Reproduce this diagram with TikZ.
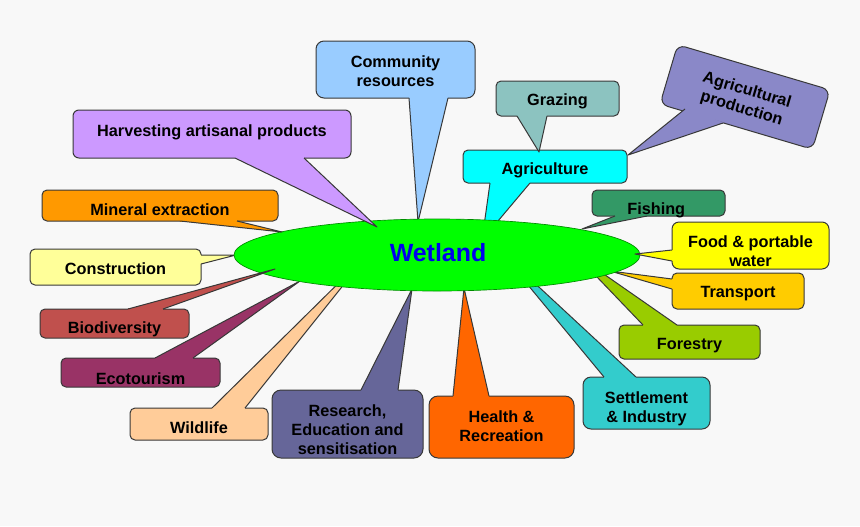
\documentclass[tikz,border=0pt]{standalone}
\usepackage{fontspec}
\setmainfont{Liberation Sans}
\usetikzlibrary{calc,backgrounds,shapes}
\definecolor{pageGrey}{rgb}{0.973,0.973,0.973}
\definecolor{edgeGrey}{rgb}{0.22,0.22,0.22}
\definecolor{wetGreen}{rgb}{0,1,0}
\definecolor{wetBlue}{rgb}{0,0,0.93}
\definecolor{communityBlue}{HTML}{99CCFF}
\definecolor{harvestLilac}{HTML}{CC99FF}
\definecolor{grazingTeal}{HTML}{8CC3C0}
\definecolor{productionBlue}{HTML}{8A88C8}
\definecolor{agriCyan}{HTML}{00FFFF}
\definecolor{fishingGreen}{HTML}{339966}
\definecolor{foodYellow}{HTML}{FFFF00}
\definecolor{transportGold}{HTML}{FFCC00}
\definecolor{forestOlive}{HTML}{99CC00}
\definecolor{settleTeal}{HTML}{33CCCC}
\definecolor{healthOrange}{HTML}{FF6600}
\definecolor{researchSlate}{HTML}{666699}
\definecolor{wildPeach}{HTML}{FFCC99}
\definecolor{ecoPlum}{HTML}{993366}
\definecolor{bioRed}{HTML}{C0504D}
\definecolor{buildCream}{HTML}{FFFF99}
\definecolor{mineralOrange}{HTML}{FF9900}
\def\px{0.75pt}
\tikzset{
  edgeline/.style={draw=edgeGrey,line width=0.75pt,line join=round},
  bubbletext/.style={font=\fontsize{12.2}{14.25}\selectfont\bfseries,align=center,inner sep=0pt,text=black}
}
% one tail: filled wedge, box border wiped under it, two outer sides
\newcommand{\drawtails}[1]{
\foreach \name/\col/\ax/\ay/\bx/\by/\target/\tx/\ty in #1
{
\coordinate (ta) at ($(\name)+(\ax,\ay)$);
\coordinate (tb) at ($(\name)+(\bx,\by)$);
\coordinate (tp) at ($(\target)+(\tx,\ty)$);
\fill [color=\col] (ta) -- (tp) -- (tb) -- cycle;
\draw [color=\col,line width=1.1pt] (ta) -- (tb);
\draw [edgeline] (ta) -- (tp) -- (tb);
}
}

\begin{document}
\begin{tikzpicture}[x=\px,y=-\px]
\useasboundingbox (0,0) rectangle (860,526);

% the centre
\node (wetland) [ellipse,fill=wetGreen,draw=green!55!black,line width=0.5pt,inner sep=0pt,
  minimum width={406*\px},minimum height={72*\px},
  label={[font=\fontsize{18.7}{19}\selectfont\bfseries,text=wetBlue,inner sep=0pt,yshift={2.5*\px},xshift={1*\px}]center:{Wetland}}] at (437,255) {};

% name/colour/x/y/width/height/corner/text drop/rotation/text
\def\boxes{
community/communityBlue/395.5/69.5/159/57/8/2/0/{Community\\resources},
harvest/harvestLilac/212/134/278/48/6/-2/0/{Harvesting artisanal products},
grazing/grazingTeal/557.5/98.5/123/35/5/2.5/0/{Grazing},
production/productionBlue/745/97/159/62/8/3/-16.5/{Agricultural\\production},
agriculture/agriCyan/545/166.5/164/33/5/3.5/0/{Agriculture},
mineral/mineralOrange/160/205.5/236/31/5/4.5/0/{Mineral extraction},
construction/buildCream/115.5/267/171/36/5/2/0/{Construction},
biodiversity/bioRed/114.5/323.5/149/29/5/6/0/{Biodiversity},
ecotourism/ecoPlum/140.5/372.5/159/29/5/6.5/0/{Ecotourism},
wildlife/wildPeach/199/424/138/32/5/4/0/{Wildlife},
research/researchSlate/347.5/424/151/68/9/6/0/{Research,\\Education and\\sensitisation},
health/healthOrange/501.5/427/145/62/9/-0.5/0/{Health \&\\Recreation},
settlement/settleTeal/646.5/403/127/52/8/5.5/0/{Settlement\\\& Industry},
forestry/forestOlive/689.5/342/141/34/5/4/0/{Forestry},
transport/transportGold/738/291/132/36/5/3/0/{Transport},
food/foodYellow/750.5/245.5/157/47/7/6/0/{Food \& portable\\water},
fishing/fishingGreen/658.5/203/133/26/5/7/0/{Fishing}
}

% tails that run under the ellipse: box/colour/base offsets/target/tip offset
\def\tailsUnder{
community/communityBlue/13.5/28.5/52.5/28.5/wetland/-19/-33,
agriculture/agriCyan/-55/16.5/-15/16.5/wetland/45/-15,
forestry/forestOlive/-46.5/-17/-12.5/-17/wetland/138/-1,
transport/transportGold/-66/-12/-66/-2/wetland/173/16,
settlement/settleTeal/-42.5/-26/-10.5/-26/wetland/62/-5,
health/healthOrange/-48.5/-31/-12.5/-31/wetland/27/33,
research/researchSlate/13.5/-34/50.5/-34/wetland/-25/34,
wildlife/wildPeach/13/-16/46/-16/wetland/-68/-2,
ecotourism/ecoPlum/14.5/-14.5/52.5/-14.5/wetland/-137/26,
construction/buildCream/85.5/-12/85.5/-3/wetland/-201/0
}

% tails that lie on top
\def\tailsOver{
harvest/harvestLilac/23/24/92/24/wetland/-60/-28,
mineral/mineralOrange/20/15.5/77/15.5/wetland/-155/-23,
biodiversity/bioRed/13.5/-14.5/48.5/-14.5/wetland/-162/14,
fishing/fishingGreen/-43.5/13/-11.5/13/wetland/145/-26,
food/foodYellow/-78.5/4.5/-78.5/15.5/wetland/198/-1,
grazing/grazingTeal/-40.5/17.5/-10.5/17.5/agriculture/-6/-14.5,
production/productionBlue/-60/12/-22/26/agriculture/83/-11.5
}

\begin{scope}[on background layer]
\fill [pageGrey] (0,0) rectangle (860,526);
% draw the boxes
\foreach \name/\col/\cx/\cy/\w/\h/\rad/\drop/\ang/\txt in \boxes
{
\node (\name) [rectangle,edgeline,fill=\col,rounded corners={\rad*\px},inner sep=0pt,
  minimum width={\w*\px},minimum height={\h*\px},rotate=\ang,
  label={[bubbletext,rotate=\ang,yshift={-\drop*\px}]center:{\txt}}] at (\cx,\cy) {};
}
\drawtails{\tailsUnder}
\end{scope}

\drawtails{\tailsOver}

\end{tikzpicture}
\end{document}
